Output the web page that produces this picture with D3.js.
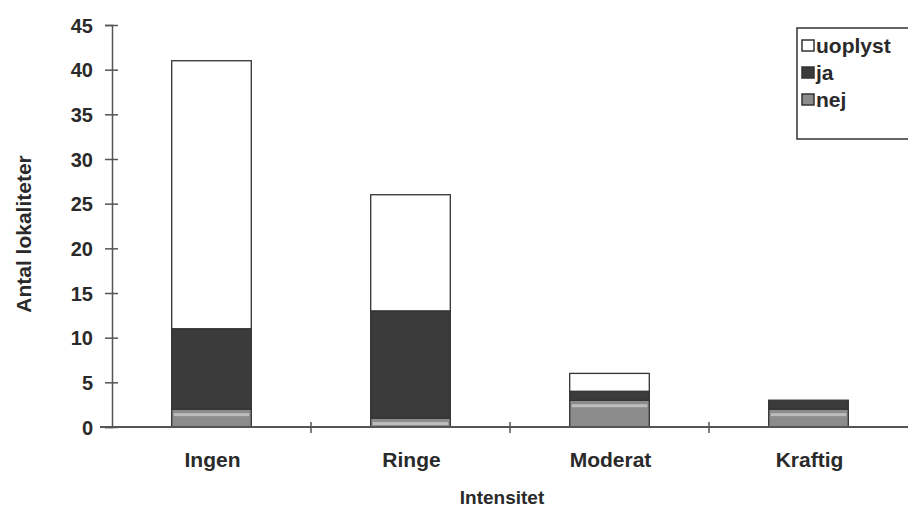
<!DOCTYPE html>
<html><head><meta charset="utf-8">
<script src="https://cdn.jsdelivr.net/npm/d3@7"></script>
<style>body{margin:0;background:#fff}svg{display:block;font-family:"Liberation Sans",Arial,sans-serif}</style>
</head><body><svg id="c" width="908" height="509"></svg>
<script>
const categories = ["Ingen", "Ringe", "Moderat", "Kraftig"];
const seriesNames = ["nej", "ja", "uoplyst"];
const nej = [2, 1, 3, 2];
const ja = [9, 12, 1, 1];
const uoplyst = [30, 13, 2, 0];
const yTicks = [0, 5, 10, 15, 20, 25, 30, 35, 40, 45];
const colors = {nej: "#8c8c8c", ja: "#3b3b3b", uoplyst: "#ffffff"};

const data = categories.map((c, i) => ({cat: c, nej: nej[i], ja: ja[i], uoplyst: uoplyst[i]}));
const svg = d3.select("#c");
const x = d3.scaleBand().domain(categories).range([112, 908]).paddingInner(0.6).paddingOuter(0.3);
const y = d3.scaleLinear().domain([0, 45]).range([427, 25]);
const stack = d3.stack().keys(seriesNames)(data);
const txt = "#2a2a2a";

const g = svg.append("g");
stack.forEach(s => {
  g.selectAll(null).data(s.filter(d => d[1] > d[0])).enter().append("rect")
    .attr("x", d => x(d.data.cat)).attr("width", x.bandwidth())
    .attr("y", d => y(d[1])).attr("height", d => y(d[0]) - y(d[1]))
    .attr("fill", colors[s.key]).attr("stroke", "#333").attr("stroke-width", 1.3);
  if (s.key === "nej") {
    g.selectAll(null).data(s).enter().append("rect")
      .attr("x", d => x(d.data.cat) + 2).attr("width", x.bandwidth() - 4)
      .attr("y", d => y(d[1]) + 4).attr("height", 3)
      .attr("fill", "#bdbdbd");
  }
});

// y axis
const ya = svg.append("g").attr("transform", "translate(112,0)")
  .call(d3.axisLeft(y).tickValues(yTicks).tickSize(7).tickPadding(12));
ya.select(".domain").attr("stroke", "#555").attr("stroke-width", 1.5);
ya.selectAll(".tick line").attr("stroke", "#555").attr("stroke-width", 1.5).attr("x2", 6).attr("x1", -7);
ya.selectAll("text").attr("font-size", 20).attr("font-weight", "bold").attr("fill", txt)
  .attr("font-family", "Liberation Sans, Arial").attr("dy", "0.36em");

// x axis
const bandStep = x.step();
svg.append("line").attr("x1", 100).attr("x2", 908).attr("y1", y(0)).attr("y2", y(0))
  .attr("stroke", "#555").attr("stroke-width", 1.8);
const boundaries = categories.slice(1).map(c => x(c) - (bandStep - x.bandwidth()) / 2);
svg.selectAll(null).data(boundaries).enter().append("line")
  .attr("x1", d => d).attr("x2", d => d).attr("y1", y(0) - 5).attr("y2", y(0) + 6)
  .attr("stroke", "#555").attr("stroke-width", 1.5);
svg.selectAll(null).data(categories).enter().append("text")
  .attr("x", d => x(d) + x.bandwidth() / 2 + 1).attr("y", 467).attr("text-anchor", "middle")
  .attr("font-size", 21).attr("font-weight", "bold").attr("fill", txt).text(d => d);

svg.append("text").attr("x", 502).attr("y", 504).attr("text-anchor", "middle")
  .attr("font-size", 19).attr("font-weight", "bold").attr("fill", txt).text("Intensitet");
svg.append("text").attr("transform", "translate(31,234) rotate(-90)").attr("text-anchor", "middle")
  .attr("font-size", 21).attr("font-weight", "bold").attr("fill", txt).text("Antal lokaliteter");

// legend
const lg = svg.append("g");
lg.append("rect").attr("x", 797).attr("y", 28).attr("width", 115).attr("height", 111)
  .attr("fill", "#fff").attr("stroke", "#333").attr("stroke-width", 1.5);
const legendItems = ["uoplyst", "ja", "nej"];
legendItems.forEach((k, i) => {
  const yy = 46 + i * 27;
  lg.append("rect").attr("x", 802).attr("y", yy - 6).attr("width", 12).attr("height", 11)
    .attr("fill", colors[k]).attr("stroke", "#333").attr("stroke-width", 1.5);
  lg.append("text").attr("x", 816).attr("y", yy + 7).attr("font-size", 21).attr("font-weight", "bold")
    .attr("fill", txt).text(k);
});
</script></body></html>
